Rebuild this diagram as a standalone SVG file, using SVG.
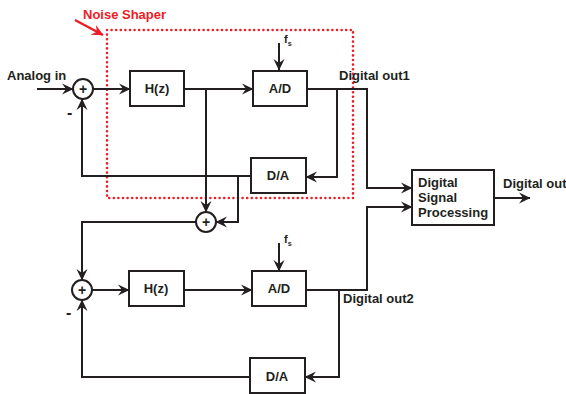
<svg xmlns="http://www.w3.org/2000/svg" width="566" height="394" viewBox="0 0 566 394">
<style>
.b{fill:#fff;stroke:#231f20;stroke-width:2}
.c{fill:#fff;stroke:#231f20;stroke-width:2}
.w{fill:none;stroke:#231f20;stroke-width:2;marker-end:url(#ah)}
.t{font-family:"Liberation Sans",Arial,sans-serif;font-weight:bold;font-size:13px;fill:#231f20}
.m{text-anchor:middle}
.r{fill:#ee1c25}
.p{font-size:14px}
.mi{font-size:16px}
.f{font-size:11px}
.s{font-size:7px}
</style>
<defs>
<marker id="ah" viewBox="0 0 12 12" refX="11" refY="6" markerWidth="12" markerHeight="12" markerUnits="userSpaceOnUse" orient="auto">
<path d="M0,0.5 L11.5,6 L0,11.5 L4,6 z" fill="#231f20"/>
</marker>
<marker id="rh" viewBox="0 0 12 12" refX="11" refY="6" markerWidth="12" markerHeight="12" markerUnits="userSpaceOnUse" orient="auto">
<path d="M0,0.5 L11.5,6 L0,11.5 L4,6 z" fill="#ee1c25"/>
</marker>
</defs>
<g id="noise-shaper">
<rect x="107" y="30" width="246" height="168" fill="none" stroke="#ee1c25" stroke-width="2.6" stroke-dasharray="0 4.6" stroke-linecap="round"/>
<text class="t r" x="83" y="19">Noise Shaper</text>
<path d="M75,20 L103,35" fill="none" stroke="#ee1c25" stroke-width="2.5" marker-end="url(#rh)"/>
</g>
<g id="connectors">
<path class="w" d="M37,89 H73"/>
<path class="w" d="M93,89 H130"/>
<path class="w" d="M184,89 H253"/>
<path class="w" d="M279,43 V70"/>
<path class="w" d="M307,89 H367 V188 H412"/>
<path class="w" d="M337,89 V177 H306"/>
<path class="w" d="M251,176 H82 V99"/>
<path class="w" d="M206,89 V212"/>
<path class="w" d="M238,176 V222 H216"/>
<path class="w" d="M196,222 H82 V280"/>
<path class="w" d="M92,290 H129"/>
<path class="w" d="M184,290 H252"/>
<path class="w" d="M279,243 V271"/>
<path class="w" d="M306,290 H367 V207 H412"/>
<path class="w" d="M339,290 V377 H305"/>
<path class="w" d="M250,377 H82 V300"/>
<path class="w" d="M494,198 H530"/>
</g>
<g id="sum1"><circle class="c" cx="83" cy="89" r="10"/><text class="t m p" x="83" y="94">+</text></g>
<g id="hz1"><rect class="b" x="130" y="71" width="54" height="35"/><text class="t m" x="157" y="93">H(z)</text></g>
<g id="ad1"><rect class="b" x="253" y="71" width="54" height="35"/><text class="t m" x="280" y="93">A/D</text></g>
<g id="da1"><rect class="b" x="251" y="158" width="55" height="35"/><text class="t m" x="278" y="180">D/A</text></g>
<g id="sum2"><circle class="c" cx="206" cy="222" r="10"/><text class="t m p" x="206" y="227">+</text></g>
<g id="sum3"><circle class="c" cx="82" cy="290" r="10"/><text class="t m p" x="82" y="295">+</text></g>
<g id="hz2"><rect class="b" x="129" y="271" width="55" height="35"/><text class="t m" x="156" y="293">H(z)</text></g>
<g id="ad2"><rect class="b" x="252" y="271" width="54" height="35"/><text class="t m" x="279" y="293">A/D</text></g>
<g id="da2"><rect class="b" x="250" y="358" width="55" height="35"/><text class="t m" x="277" y="381">D/A</text></g>
<g id="dsp"><rect class="b" x="412" y="170" width="82" height="55"/>
<text class="t" x="418" y="187">Digital</text><text class="t" x="418" y="202">Signal</text><text class="t" x="418" y="217">Processing</text></g>
<g id="labels">
<text class="t mi" x="67" y="118">-</text>
<text class="t mi" x="66" y="318">-</text>
<text class="t" x="7" y="80">Analog in</text>
<text class="t" x="339" y="80">Digital out1</text>
<text class="t" x="343" y="303">Digital out2</text>
<text class="t" x="503" y="188">Digital out</text>
<text class="t f" x="284" y="43">f<tspan class="s" dy="3">s</tspan></text>
<text class="t f" x="284" y="243">f<tspan class="s" dy="3">s</tspan></text>
</g>
</svg>
